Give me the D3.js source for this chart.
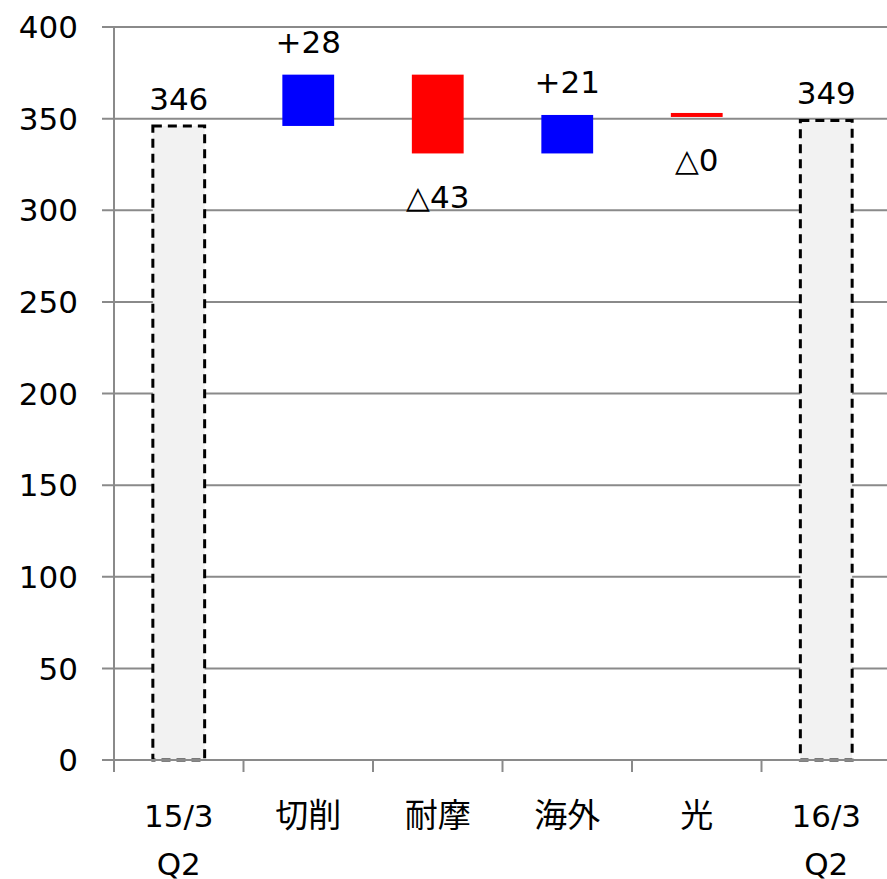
<!DOCTYPE html>
<html>
<head>
<meta charset="utf-8">
<script src="https://cdn.jsdelivr.net/npm/d3@7"></script>
<style>
  html, body { margin: 0; padding: 0; background: #fff; }
  svg { display: block; }
</style>
</head>
<body>
<svg id="chart" width="887" height="879"></svg>
<script>
// Category labels (line-broken where the label wraps)
const categories = ["15/3\nQ2", "切削", "耐摩", "海外", "光", "16/3\nQ2"];
// Kind of each step: totals are drawn as dashed grey columns
const kinds = ["total", "delta", "delta", "delta", "delta", "total"];
// Totals for the two periods and the changes between them
const values = [346, 28, -43, 21, -0.4, 349];
// Y-axis ticks
const yTicks = [0, 50, 100, 150, 200, 250, 300, 350, 400];

const svg = d3.select("#chart");
const FONT = "'DejaVu Sans', 'Noto Sans CJK JP', sans-serif";
const CJK = "'Noto Sans CJK JP', 'DejaVu Sans', sans-serif";
const GRID = "#8a8a8a";

const plotL = 114, plotR = 891, plotT = 27, plotB = 760;

const x = d3.scaleBand().domain(categories).range([plotL, plotR]).paddingInner(0).paddingOuter(0);
const y = d3.scaleLinear().domain([0, 400]).range([plotB, plotT]);

// Build the waterfall steps
let running = 0;
const steps = categories.map((c, i) => {
  let lo, hi;
  if (kinds[i] === "total") {
    lo = 0; hi = values[i]; running = values[i];
  } else {
    const start = running, end = running + values[i];
    lo = Math.min(start, end); hi = Math.max(start, end); running = end;
  }
  return { cat: c, kind: kinds[i], v: values[i], lo, hi };
});

// Horizontal gridlines (doubling as the outward y ticks)
svg.append("g").selectAll("line")
  .data(yTicks.filter(t => t > 0))
  .join("line")
  .attr("x1", plotL - 12).attr("x2", plotR)
  .attr("y1", d => y(d)).attr("y2", d => y(d))
  .attr("stroke", GRID).attr("stroke-width", 2);

// Y tick labels
svg.append("g").selectAll("text")
  .data(yTicks)
  .join("text")
  .attr("x", 78).attr("y", d => y(d))
  .attr("dy", "0.36em")
  .attr("text-anchor", "end")
  .attr("font-family", FONT).attr("font-size", 31)
  .attr("fill", "#000")
  .text(d => d);

const barW = x.bandwidth() * 0.4;
const cx = d => x(d.cat) + x.bandwidth() / 2;

// Bars
svg.append("g").selectAll("rect")
  .data(steps)
  .join("rect")
  .attr("x", d => cx(d) - barW / 2)
  .attr("width", barW)
  .attr("y", d => {
    const h = y(d.lo) - y(d.hi);
    return h < 4 ? y(d.hi) - 2 : y(d.hi);
  })
  .attr("height", d => Math.max(4, y(d.lo) - y(d.hi)))
  .attr("fill", d => d.kind === "total" ? "#f2f2f2" : (d.v >= 0 ? "#0000ff" : "#ff0000"))
  .attr("stroke", d => d.kind === "total" ? "#000" : "none")
  .attr("stroke-width", d => d.kind === "total" ? 3 : 0)
  .attr("stroke-dasharray", d => d.kind === "total" ? "9,6" : null);

// Axis lines drawn over the columns
svg.append("line")
  .attr("x1", plotL - 12).attr("x2", plotR)
  .attr("y1", y(0)).attr("y2", y(0))
  .attr("stroke", GRID).attr("stroke-width", 2);
svg.append("line")
  .attr("x1", plotL).attr("x2", plotL)
  .attr("y1", plotT).attr("y2", plotB + 12)
  .attr("stroke", GRID).attr("stroke-width", 2);

// Category tick marks at band boundaries
const bounds = categories.map(c => x(c)).concat([plotR]);
svg.append("g").selectAll("line")
  .data(bounds)
  .join("line")
  .attr("x1", d => d).attr("x2", d => d)
  .attr("y1", plotB).attr("y2", plotB + 12)
  .attr("stroke", GRID).attr("stroke-width", 2);

// Category labels
const catG = svg.append("g");
steps.forEach(d => {
  const lines = d.cat.split("\n");
  const isCjk = /[^\x00-\x7f]/.test(d.cat);
  const t = catG.append("text")
    .attr("x", cx(d)).attr("y", 827)
    .attr("text-anchor", "middle")
    .attr("font-family", isCjk ? CJK : FONT)
    .attr("font-size", isCjk ? 33 : 31)
    .attr("fill", "#000");
  lines.forEach((ln, i) => {
    t.append("tspan").attr("x", cx(d)).attr("dy", i === 0 ? 0 : 48).text(ln);
  });
});

// Value labels
const fmt = d => {
  const r = Math.round(Math.abs(d.v));
  if (d.kind === "total") return String(r);
  return d.v >= 0 ? "+" + r : "△" + r;
};
svg.append("g").selectAll("text")
  .data(steps)
  .join("text")
  .attr("x", cx)
  .attr("y", d => {
    if (d.kind === "total") return y(d.hi) - 16;
    return d.v >= 0 ? y(d.hi) - 22 : y(d.lo) + 55;
  })
  .attr("text-anchor", "middle")
  .attr("font-family", FONT).attr("font-size", 31)
  .attr("fill", "#000")
  .text(fmt);
</script>
</body>
</html>
